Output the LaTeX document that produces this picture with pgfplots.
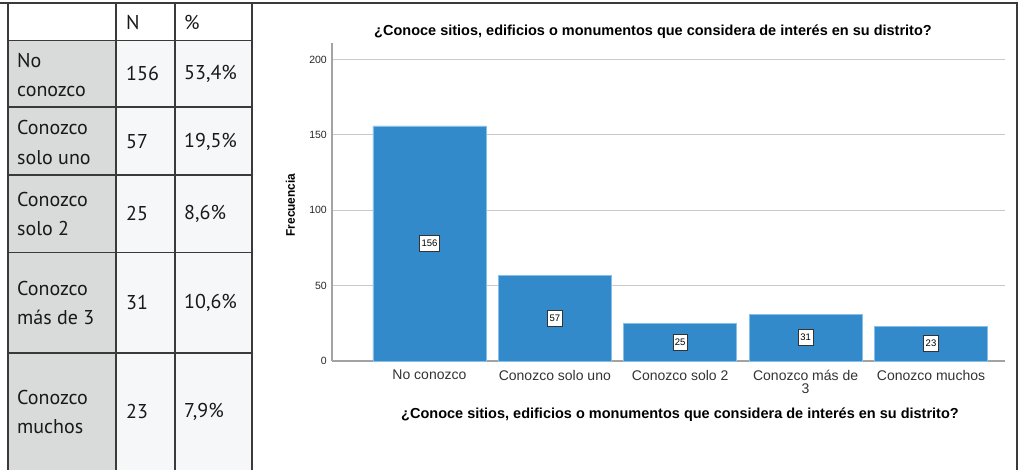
\documentclass[border=0pt]{standalone}
\usepackage{fontspec}
\setmainfont{Liberation Sans}
\newfontfamily\tabfont{PT Sans}
\usepackage{pgfplots}
\usepackage{pgfplotstable}
\pgfplotsset{compat=1.18}

\definecolor{barBlue}{HTML}{328ACB}
\definecolor{barEdge}{HTML}{86BFE8}
\definecolor{gridGray}{HTML}{CACACA}
\definecolor{axisGray}{HTML}{A3A3A3}
\definecolor{cellGray}{HTML}{D9DADA}
\definecolor{cellLight}{HTML}{F6F7F9}
\definecolor{frameDark}{HTML}{3A3A3A}

% frecuencias por categoria
\pgfplotstableread{
x n
0 156
1 57
2 25
3 31
4 23
}\freq

\begin{document}
\begin{tikzpicture}
\useasboundingbox (0,0) rectangle (1021pt,470pt);

% tabla de la izquierda (coordenadas en px, y hacia abajo)
\begin{scope}[x=1pt, y=-1pt, shift={(0pt,470pt)}]
  \fill[white] (8,4) rectangle (252,40.5);
  \fill[cellGray] (8,40.5) rectangle (116,470);
  \fill[cellLight] (116,40.5) rectangle (252,470);
  \draw[frameDark, line width=1.4pt]
    (8,4) -- (8,470) (116,4) -- (116,470) (175,4) -- (175,470) (252,4) -- (252,470)
    (8,40.5) -- (252,40.5) (8,107) -- (252,107) (8,175) -- (252,175)
    (8,252.5) -- (252,252.5) (8,353) -- (252,353);
  \draw[frameDark, line width=2.5pt] (0,3) -- (1018,3);
  \draw[frameDark, line width=1.4pt] (1017,3) -- (1017,470);
  \begin{scope}[every node/.style={text=black!90, inner sep=0pt,
      font=\tabfont\fontsize{20}{29.5}\selectfont}]
    \node[anchor=west] at (126,23) {N};
    \node[anchor=west] at (184,23) {\%};
    \node[anchor=west, align=left] at (17,75) {No\\conozco};
    \node[anchor=west, align=left] at (17,142.5) {Conozco\\solo uno};
    \node[anchor=west, align=left] at (17,214) {Conozco\\solo 2};
    \node[anchor=west, align=left] at (17,303) {Conozco\\más de 3};
    \node[anchor=west, align=left] at (17,412) {Conozco\\muchos};
    \node[anchor=west] at (126,74) {156};
    \node[anchor=west] at (184,74) {53,4\%};
    \node[anchor=west] at (126,141.5) {57};
    \node[anchor=west] at (184,141.5) {19,5\%};
    \node[anchor=west] at (126,214) {25};
    \node[anchor=west] at (184,214) {8,6\%};
    \node[anchor=west] at (126,303) {31};
    \node[anchor=west] at (184,303) {10,6\%};
    \node[anchor=west] at (126,412) {23};
    \node[anchor=west] at (184,412) {7,9\%};
  \end{scope}
  \node[font=\bfseries\fontsize{14.5}{14.5}\selectfont] at (653,32)
    {¿Conoce sitios, edificios o monumentos que considera de interés en su distrito?};
  \node[font=\bfseries\fontsize{14.5}{14.5}\selectfont] at (680,415)
    {¿Conoce sitios, edificios o monumentos que considera de interés en su distrito?};
  \node[rotate=90, font=\bfseries\fontsize{12.5}{12.5}\selectfont] at (290.5,205)
    {\scalebox{0.95}[1]{Frecuencia}};
\end{scope}

\begin{axis}[
  at={(332pt,109pt)}, anchor=south west,
  scale only axis, width=673pt, height=318pt,
  xmin=-0.777, xmax=4.59, ymin=0, ymax=211,
  axis x line*=bottom, axis y line*=left,
  axis line style={draw=axisGray, line width=1.5pt, -},
  ytick={0,50,100,150,200},
  ymajorgrids, grid style={draw=gridGray, line width=1pt},
  major tick length=0pt,
  xtick={0,1,2,3,4},
  xticklabels={No conozco, Conozco solo uno, Conozco solo 2, {Conozco más de\\3}, Conozco muchos},
  x tick label style={font=\fontsize{14}{12.5}\selectfont, text=black!80,
    align=center, inner sep=0pt, yshift=-9pt},
  y tick label style={font=\fontsize{10.5}{10.5}\selectfont, text=black!85,
    inner sep=0pt, xshift=-5pt},
  /pgf/number format/assume math mode=true,
  clip=false,
]
\addplot[ybar, bar width=113pt, fill=barBlue, draw=barEdge, line width=0.6pt]
  table[x=x, y=n] {\freq};
\addplot[draw=none, mark=none, forget plot,
  nodes near coords, point meta=explicit,
  nodes near coords align={center},
  every node near coord/.append style={font=\fontsize{9.5}{9.5}\selectfont,
    fill=white, draw=black!80, line width=0.7pt, inner sep=2pt,
    minimum height=16pt, text=black}]
  table[x=x, y expr=\thisrow{n}/2, meta=n] {\freq};
\end{axis}
\end{tikzpicture}
\end{document}
